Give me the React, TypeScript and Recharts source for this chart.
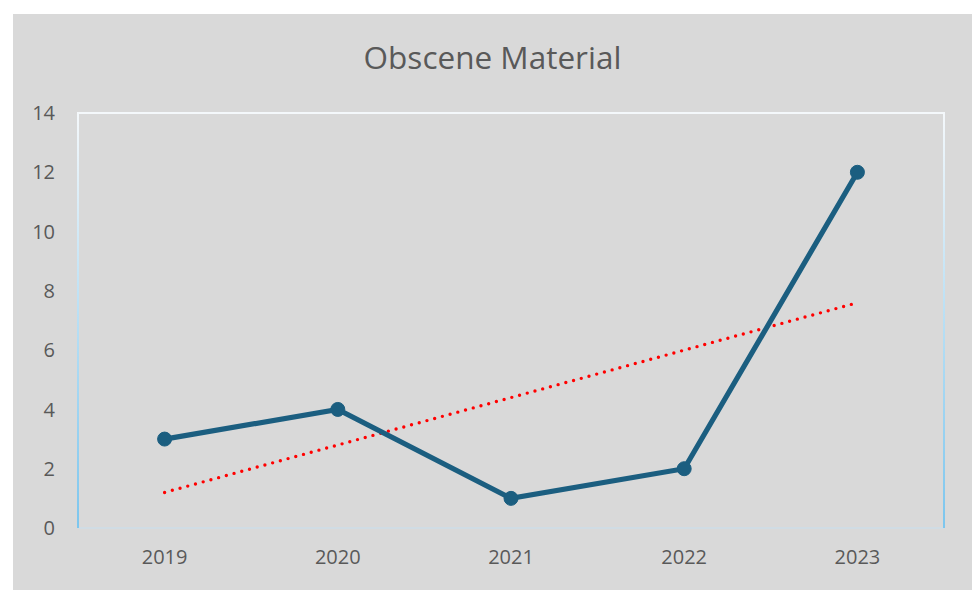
import { LineChart, Line, XAxis, YAxis, usePlotArea } from "recharts";

const YEARS = ["2019", "2020", "2021", "2022", "2023"];
const CASES = [3, 4, 1, 2, 12];
const TREND = [1.2, 2.8, 4.4, 6.0, 7.6];
const Y_TICKS = [0, 2, 4, 6, 8, 10, 12, 14];

const data = YEARS.map((year, i) => ({ year, cases: CASES[i], trend: TREND[i] }));

const FONT = "'Open Sans', 'Liberation Sans', sans-serif";
const TEXT = "#595959";

function PlotFrame() {
  const area = usePlotArea();
  if (!area) return null;
  const { x, y, width, height } = area;
  const bottom = y + height;
  const right = x + width;
  return (
    <g>
      <defs>
        <linearGradient id="sideGrad" gradientUnits="userSpaceOnUse" x1="0" y1={y} x2="0" y2={bottom}>
          <stop offset="0%" stopColor="#f4f8fb" />
          <stop offset="100%" stopColor="#7cc6ee" />
        </linearGradient>
      </defs>
      <line x1={x} y1={bottom} x2={right} y2={bottom} stroke="#cddde7" strokeWidth={1.5} />
      <line x1={x} y1={y} x2={x} y2={bottom} stroke="url(#sideGrad)" strokeWidth={2} />
      <line x1={right} y1={y} x2={right} y2={bottom} stroke="url(#sideGrad)" strokeWidth={2} />
      <line x1={x - 1} y1={y} x2={right + 1} y2={y} stroke="#f4f8fb" strokeWidth={2} />
    </g>
  );
}

export default function App() {
  return (
    <div style={{ position: "absolute", left: 0, top: 0, width: 972, height: 593, background: "#fff" }}>
      <div
        style={{
          position: "absolute",
          left: 13,
          top: 14,
          width: 959,
          height: 576,
          background: "#d9d9d9",
        }}
      >
        <div
          style={{
            position: "absolute",
            top: 21,
            width: "100%",
            textAlign: "center",
            fontFamily: FONT,
            fontSize: 31.5,
            color: TEXT,
          }}
        >
          Obscene Material
        </div>
        <LineChart
          width={959}
          height={576}
          data={data}
          margin={{ top: 99, right: 28, bottom: 32, left: 15 }}
        >
          <PlotFrame />
          <XAxis
            dataKey="year"
            height={30}
            padding={{ left: 86.6, right: 86.6 }}
            axisLine={false}
            tickLine={false}
            tickSize={0}
            tickMargin={22}
            fontSize={20}
            tick={{ fontSize: 20, fill: TEXT, fontFamily: FONT }}
          />
          <YAxis
            width={50}
            domain={[0, 14]}
            ticks={Y_TICKS}
            axisLine={false}
            tickLine={false}
            tickSize={0}
            tickMargin={23}
            fontSize={20}
            tick={{ fontSize: 20, fill: TEXT, fontFamily: FONT }}
          />
          <Line
            dataKey="trend"
            stroke="#ff0000"
            strokeWidth={3.4}
            strokeDasharray="0 8"
            strokeLinecap="round"
            dot={false}
            activeDot={false}
            isAnimationActive={false}
          />
          <Line
            dataKey="cases"
            stroke="#1b5e80"
            strokeWidth={5.2}
            dot={{ r: 7, fill: "#1b5e80", stroke: "#1b5e80", strokeWidth: 1 }}
            activeDot={false}
            isAnimationActive={false}
          />
        </LineChart>
      </div>
    </div>
  );
}
